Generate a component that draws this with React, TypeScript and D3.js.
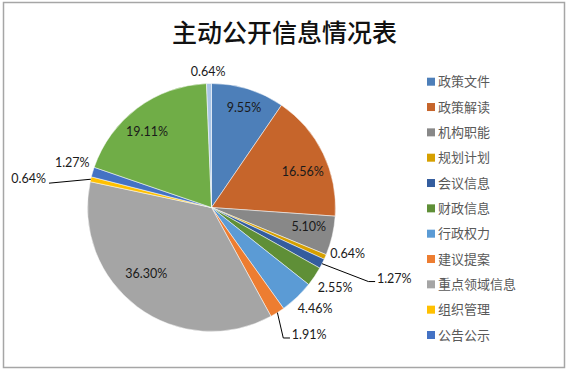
import React from 'react';
import * as d3 from 'd3';

// categories (only the first 11 are shown in the legend of the original chart)
const categories = [
  '政策文件', '政策解读', '机构职能', '规划计划', '会议信息', '财政信息',
  '行政权力', '建议提案', '重点领域信息', '组织管理', '公告公示', '其他一', '其他二',
];
const shares = [9.55, 16.56, 5.1, 0.64, 1.27, 2.55, 4.46, 1.91, 36.3, 0.64, 1.27, 19.11, 0.64];
const legendCount = 11;

const colors = [
  '#4d7fb9', '#c6652b', '#888888', '#d6a000', '#345d9e', '#5f8f37',
  '#5b9bd5', '#ed7d31', '#a5a5a5', '#ffc000', '#4472c4', '#70ad47', '#a9c5e6',
];

// label placement: radius factor, angle shift (deg) from slice middle, leader side
const labelPos: { r: number; shift: number; leader?: 'right' | 'left' }[] = [
  { r: 0.845, shift: 0.9 },
  { r: 0.79, shift: 4.6 },
  { r: 0.8, shift: -1.9 },
  { r: 1.16, shift: -4.6 },
  { r: 1.452, shift: -3.7, leader: 'right' },
  { r: 1.19, shift: -0.8 },
  { r: 1.17, shift: -2.0 },
  { r: 1.215, shift: -0.1, leader: 'right' },
  { r: 0.75, shift: 7.9 },
  { r: 1.355, shift: -3.3, leader: 'left' },
  { r: 1.18, shift: 1.3 },
  { r: 0.8, shift: -3.8 },
  { r: 1.1, shift: -0.3 },
];

const W = 567;
const H = 371;
const cx = 211.5;
const cy = 207.5;
const radius = 124;

const App: React.FC = () => {
  const data = categories.map((c, i) => ({ label: c, value: shares[i] }));
  const pie = d3.pie<{ label: string; value: number }>().value(d => d.value).sort(null);
  const arcs = pie(data);
  const arc = d3.arc<d3.PieArcDatum<{ label: string; value: number }>>()
    .innerRadius(0)
    .outerRadius(radius);

  const polar = (angle: number, r: number): [number, number] => [
    Math.sin(angle) * r,
    -Math.cos(angle) * r,
  ];

  const legendY = d3.scalePoint<string>()
    .domain(categories.slice(0, legendCount))
    .range([81.7, 335]);

  return (
    <svg width={W} height={H} style={{ position: 'absolute', left: 0, top: 0 }}>
      <rect x={0} y={0} width={W} height={H} fill="#fff" />
      <rect x={3.5} y={2.5} width={561} height={365} fill="none" stroke="#a6a6a6" strokeWidth={1.5} />
      <text
        x={284.5}
        y={42}
        textAnchor="middle"
        fontFamily="'Noto Sans CJK SC', sans-serif"
        fontSize={25}
        fontWeight={500}
        fill="#111"
      >
        主动公开信息情况表
      </text>

      <g transform={`translate(${cx},${cy})`}>
        {arcs.map((a, i) => (
          <path key={i} d={arc(a) || ''} fill={colors[i]} stroke="#fff" strokeWidth={0.5} />
        ))}
        {arcs.map((a, i) => {
          const mid = (a.startAngle + a.endAngle) / 2;
          const p = labelPos[i];
          const [x, y] = polar(mid + (p.shift * Math.PI) / 180, radius * p.r);
          const txt = `${a.data.value.toFixed(2)}%`;
          if (p.leader) {
            const [ex, ey] = polar(mid, radius);
            const pts: [number, number][] = p.leader === 'right'
              ? [[ex, ey], [x - 8.5, y + 3], [x - 1.8, y + 3]]
              : [[ex, ey], [x + 3, y + 4.5]];
            return (
              <g key={i}>
                <path d={d3.line()(pts) || ''} fill="none" stroke="#000" strokeWidth={1} />
                <text
                  x={x}
                  y={y}
                  dy="0.35em"
                  textAnchor={p.leader === 'right' ? 'start' : 'end'}
                  fontFamily="Lato, 'Open Sans', sans-serif"
                  fontSize={12.5}
                  fill="#1a1a1a"
                >
                  {txt}
                </text>
              </g>
            );
          }
          return (
            <text
              key={i}
              x={x}
              y={y}
              dy="0.35em"
              textAnchor="middle"
              fontFamily="Lato, 'Open Sans', sans-serif"
              fontSize={12.5}
              fill="#1a1a1a"
            >
              {txt}
            </text>
          );
        })}
      </g>

      <g>
        {categories.slice(0, legendCount).map((c, i) => (
          <g key={c} transform={`translate(427,${legendY(c)})`}>
            <rect x={0} y={-4} width={8} height={8} fill={colors[i]} />
            <text
              x={11}
              y={0}
              dy="0.35em"
              fontFamily="'Noto Sans CJK SC', sans-serif"
              fontSize={13}
              fill="#595959"
            >
              {c}
            </text>
          </g>
        ))}
      </g>
    </svg>
  );
};

export default App;
